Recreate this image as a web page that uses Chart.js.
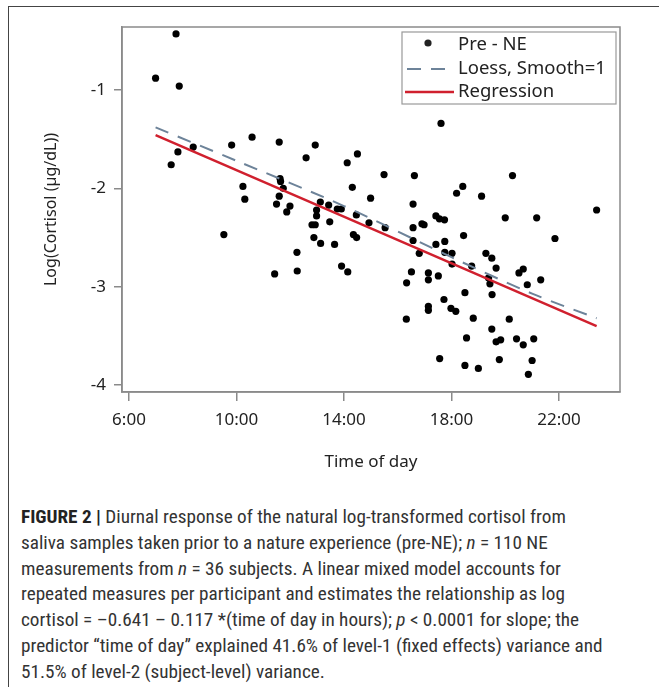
<!DOCTYPE html>
<html>
<head>
<meta charset="utf-8">
<script src="https://cdn.jsdelivr.net/npm/chart.js@4.4.1/dist/chart.umd.min.js"></script>
<style>
  body { margin: 0; background: #fff; width: 659px; height: 687px; overflow: hidden; position: relative; }
  #frame { position: absolute; left: 8px; top: 6px; width: 700px; height: 700px; border-left: 1.5px solid #444; border-top: 1.5px solid #444; }
  #chartBox { position: absolute; left: 0; top: 0; width: 659px; height: 480px; }
  #caption { position: absolute; left: 21px; top: 504px; font-family: "Liberation Sans Narrow", "Roboto Condensed", Roboto, sans-serif; font-size: 19.2px; line-height: 25.8px; color: #333; white-space: nowrap; }
  #caption b { color: #222; }
</style>
</head>
<body>
<div id="frame"></div>
<div id="chartBox"><canvas id="chartCanvas"></canvas></div>
<div id="caption">
  <div><b>FIGURE 2 |</b> Diurnal response of the natural log-transformed cortisol from</div>
  <div>saliva samples taken prior to a nature experience (pre-NE); <i>n</i> = 110 NE</div>
  <div>measurements from <i>n</i> = 36 subjects. A linear mixed model accounts for</div>
  <div>repeated measures per participant and estimates the relationship as log</div>
  <div>cortisol = &#8211;0.641 &#8211; 0.117 *(time of day in hours); <i>p</i> &lt; 0.0001 for slope; the</div>
  <div>predictor &#8220;time of day&#8221; explained 41.6% of level-1 (fixed effects) variance and</div>
  <div>51.5% of level-2 (subject-level) variance.</div>
</div>
<script>
// pre-NE samples: time of day (hours) and log cortisol
const timeHours = [
  7.75, 6.99, 7.87, 10.58, 9.82, 8.39, 7.82, 7.57, 10.24, 10.31,
  11.59, 12.93, 12.59, 14.12, 14.50, 15.49, 16.62, 11.62, 11.64, 11.74,
  14.31, 11.59, 14.99, 11.49, 11.99, 13.12, 13.43, 16.57, 13.90, 13.75,
  17.61, 20.27, 18.42, 18.19, 19.12, 23.40, 9.53, 11.87, 12.98, 12.98,
  14.46, 12.81, 12.93, 13.47, 14.93, 15.53, 16.57, 16.90, 16.98, 12.88,
  13.13, 13.65, 14.35, 14.47, 16.57, 16.80, 12.25, 12.26, 11.42, 13.91,
  14.14, 16.51, 16.33, 17.14, 17.14, 17.14, 17.14, 16.32, 17.42, 17.55,
  17.74, 18.45, 20.00, 21.17, 21.85, 17.42, 17.75, 17.75, 18.02, 18.02,
  17.51, 18.75, 19.28, 19.50, 19.66, 19.38, 19.43, 19.51, 20.51, 20.67,
  20.82, 21.32, 18.50, 17.72, 17.98, 18.16, 18.81, 20.15, 19.50, 18.56,
  19.66, 19.83, 20.42, 20.67, 21.06, 17.56, 19.78, 21.00, 18.50, 19.00,
  20.86
];
const logCortisol = [
  -0.43, -0.88, -0.96, -1.48, -1.56, -1.58, -1.63, -1.76, -1.98, -2.11,
  -1.53, -1.56, -1.69, -1.74, -1.65, -1.86, -1.87, -1.90, -1.93, -2.00,
  -1.99, -2.08, -2.10, -2.16, -2.18, -2.14, -2.17, -2.16, -2.21, -2.21,
  -1.34, -1.87, -1.98, -2.05, -2.08, -2.22, -2.47, -2.24, -2.22, -2.28,
  -2.27, -2.37, -2.37, -2.34, -2.35, -2.40, -2.40, -2.36, -2.37, -2.50,
  -2.56, -2.57, -2.47, -2.50, -2.53, -2.66, -2.65, -2.84, -2.87, -2.79,
  -2.85, -2.85, -2.96, -2.86, -2.93, -3.20, -3.24, -3.33, -2.28, -2.31,
  -2.32, -2.48, -2.30, -2.30, -2.51, -2.57, -2.54, -2.65, -2.66, -2.77,
  -2.89, -2.79, -2.66, -2.71, -2.81, -2.91, -2.97, -3.08, -2.86, -2.82,
  -2.98, -2.93, -3.06, -3.13, -3.22, -3.25, -3.32, -3.33, -3.43, -3.52,
  -3.56, -3.54, -3.53, -3.59, -3.53, -3.73, -3.74, -3.75, -3.80, -3.83,
  -3.89
];
// loess curve (smooth = 1)
const loessHours = [6.99, 10, 14, 18, 21, 23.4];
const loessValues = [-1.38, -1.72, -2.18, -2.70, -3.07, -3.32];
// linear regression line
const regHours = [6.99, 23.4];
const regValues = [-1.46, -3.40];

const xTicks = [6, 10, 14, 18, 22];
const yTicks = [-4, -3, -2, -1];

const axisGrey = '#8a8a8a';
const tickFont = { family: 'Noto Sans', size: 17 };
const redLine = '#d0202e';
const loessColor = '#6d8399';

const toXY = (xs, ys) => xs.map((x, i) => ({ x: x, y: ys[i] }));

const boxAndLegend = {
  id: 'boxAndLegend',
  afterDraw(chart) {
    const ctx = chart.ctx;
    const a = chart.chartArea;
    ctx.save();
    ctx.strokeStyle = axisGrey;
    ctx.lineWidth = 1.5;
    ctx.strokeRect(a.left, a.top, a.right - a.left, a.bottom - a.top);

    // legend box
    let bx = a.right - 218, by = a.top + 5, bw = 214, bh = 72;
    ctx.fillStyle = '#fff';
    ctx.fillRect(bx, by, bw, bh);
    ctx.strokeStyle = '#999';
    ctx.lineWidth = 1.2;
    ctx.strokeRect(bx, by, bw, bh);

    ctx.font = '18.5px "Noto Sans"';
    ctx.fillStyle = '#222';
    ctx.textBaseline = 'middle';
    let tx = bx + 56;
    let rows = [by + 13, by + 37, by + 60];

    ctx.beginPath();
    ctx.arc(bx + 26, rows[0] - 2, 3.6, 0, Math.PI * 2);
    ctx.fill();
    ctx.fillText('Pre - NE', tx, rows[0]);

    ctx.strokeStyle = loessColor;
    ctx.lineWidth = 2;
    ctx.setLineDash([14, 10]);
    ctx.beginPath();
    ctx.moveTo(bx + 5, rows[1]);
    ctx.lineTo(bx + 50, rows[1]);
    ctx.stroke();
    ctx.setLineDash([]);
    ctx.fillText('Loess, Smooth=1', tx, rows[1]);

    ctx.strokeStyle = redLine;
    ctx.lineWidth = 2.5;
    ctx.beginPath();
    ctx.moveTo(bx + 3, rows[2]);
    ctx.lineTo(bx + 52, rows[2]);
    ctx.stroke();
    ctx.fillText('Regression', tx, rows[2]);
    ctx.restore();
  }
};

new Chart(document.getElementById('chartCanvas'), {
  type: 'scatter',
  data: {
    datasets: [
      {
        label: 'Regression',
        type: 'line',
        data: toXY(regHours, regValues),
        borderColor: redLine,
        borderWidth: 2.5,
        pointRadius: 0,
        fill: false
      },
      {
        label: 'Loess, Smooth=1',
        type: 'line',
        data: toXY(loessHours, loessValues),
        borderColor: loessColor,
        borderWidth: 2,
        borderDash: [14, 10],
        pointRadius: 0,
        tension: 0.3,
        fill: false
      },
      {
        label: 'Pre - NE',
        data: toXY(timeHours, logCortisol),
        backgroundColor: '#000',
        borderWidth: 0,
        pointRadius: 3.6
      }
    ]
  },
  options: {
    responsive: true,
    maintainAspectRatio: false,
    animation: false,
    layout: { padding: { top: 27, right: 39, left: 0, bottom: 0 } },
    plugins: { legend: { display: false }, tooltip: { enabled: false } },
    scales: {
      x: {
        type: 'linear',
        min: 5.74,
        max: 24.27,
        afterBuildTicks: (s) => { s.ticks = xTicks.map(v => ({ value: v })); },
        afterFit: (s) => { s.height = 88; },
        ticks: { callback: (v) => v + ':00', font: tickFont, color: '#222', padding: 9, maxRotation: 0, autoSkip: false },
        grid: { drawOnChartArea: false, drawTicks: true, tickLength: 9, color: axisGrey, lineWidth: 1.5 },
        border: { display: true, color: axisGrey, width: 1.5 },
        title: { display: true, text: 'Time of day', font: tickFont, color: '#222', padding: { bottom: 8 } }
      },
      y: {
        type: 'linear',
        min: -4.07,
        max: -0.36,
        afterBuildTicks: (s) => { s.ticks = yTicks.map(v => ({ value: v })); },
        afterFit: (s) => { s.width = 122; },
        ticks: { font: tickFont, color: '#222', padding: 8, autoSkip: false },
        grid: { drawOnChartArea: false, drawTicks: true, tickLength: 8, color: axisGrey, lineWidth: 1.5 },
        border: { display: true, color: axisGrey, width: 1.5 },
        title: { display: true, text: 'Log(Cortisol (\u00b5g/dL))', font: { family: 'Noto Sans', size: 16 }, color: '#222', padding: { top: 42 } }
      }
    }
  },
  plugins: [boxAndLegend]
});
</script>
</body>
</html>
